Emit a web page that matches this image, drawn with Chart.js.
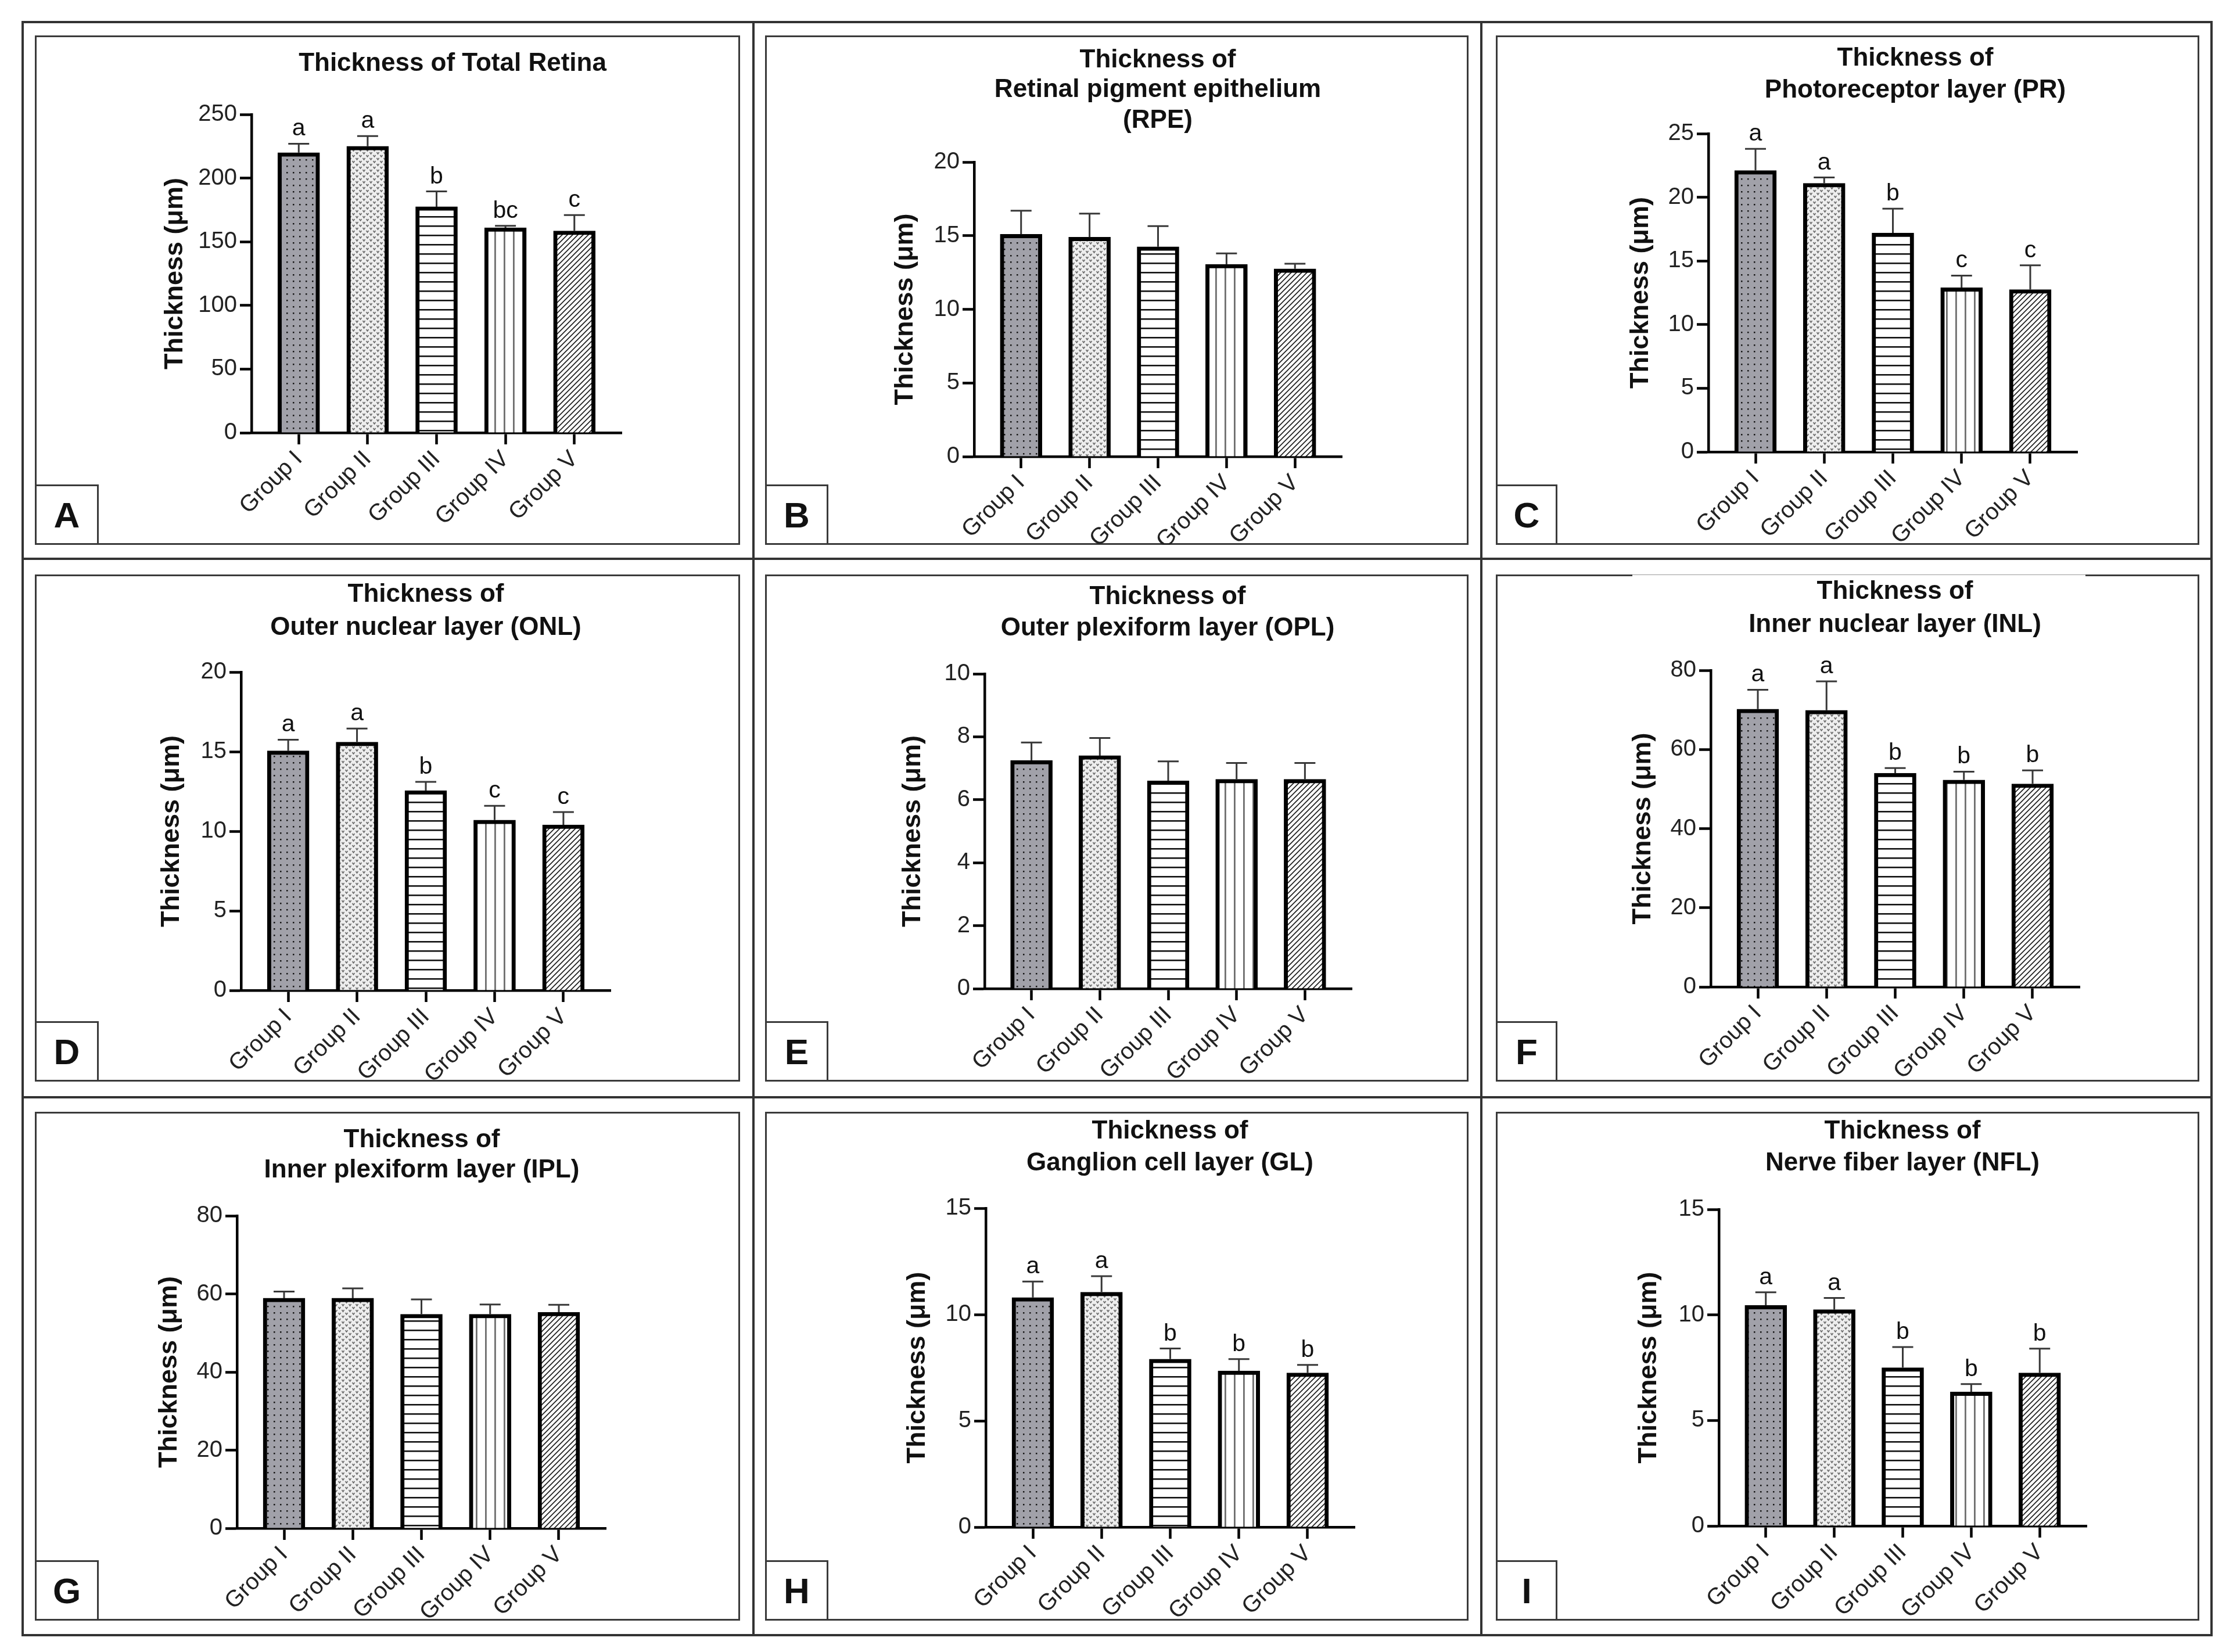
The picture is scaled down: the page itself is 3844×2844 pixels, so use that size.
<!DOCTYPE html>
<html>
<head>
<meta charset="utf-8">
<script src="https://cdn.jsdelivr.net/npm/chart.js@4.4.1/dist/chart.umd.min.js"></script>
<style>
html,body{margin:0;padding:0;background:#fff;}
#fig{position:relative;width:3844px;height:2844px;overflow:hidden;background:#fff;font-family:"Liberation Sans",Arial,sans-serif;}
.ln{position:absolute;background:#333;}
.box{position:absolute;border:3px solid #3a3a3a;box-sizing:border-box;}
.tag{position:absolute;border:3px solid #3a3a3a;box-sizing:border-box;background:#fff;display:flex;align-items:center;justify-content:center;font-weight:bold;font-size:62px;color:#111;z-index:3;}
.ttl{position:absolute;transform:translate(-50%,-50%);white-space:nowrap;font-weight:bold;font-size:44px;line-height:1;color:#111;z-index:2;}
canvas{position:absolute;z-index:1;}
</style>
</head>
<body>
<div id="fig"></div>
<script>
// ---------------- data ----------------
const groups = ['Group I', 'Group II', 'Group III', 'Group IV', 'Group V'];
const yAxisTitle = 'Thickness (μm)';

const totalRetinaTitle = ['Thickness of Total Retina'];
const totalRetinaMean = [220, 225, 177.5, 161, 158.5];
const totalRetinaSD = [7, 8, 12, 1.5, 12.5];
const totalRetinaLetters = ['a', 'a', 'b', 'bc', 'c'];
const totalRetinaTicks = [0, 50, 100, 150, 200, 250];

const rpeTitle = ['Thickness of', 'Retinal pigment epithelium', '(RPE)'];
const rpeMean = [15.1, 14.9, 14.25, 13.05, 12.75];
const rpeSD = [1.6, 1.6, 1.4, 0.75, 0.35];
const rpeLetters = [];
const rpeTicks = [0, 5, 10, 15, 20];

const prTitle = ['Thickness of', 'Photoreceptor layer (PR)'];
const prMean = [22.1, 21.1, 17.2, 12.9, 12.75];
const prSD = [1.7, 0.45, 1.9, 0.95, 1.9];
const prLetters = ['a', 'a', 'b', 'c', 'c'];
const prTicks = [0, 5, 10, 15, 20, 25];

const onlTitle = ['Thickness of', 'Outer nuclear layer (ONL)'];
const onlMean = [15.05, 15.6, 12.55, 10.7, 10.4];
const onlSD = [0.7, 0.85, 0.55, 0.9, 0.8];
const onlLetters = ['a', 'a', 'b', 'c', 'c'];
const onlTicks = [0, 5, 10, 15, 20];

const oplTitle = ['Thickness of', 'Outer plexiform layer (OPL)'];
const oplMean = [7.25, 7.4, 6.6, 6.65, 6.65];
const oplSD = [0.57, 0.56, 0.62, 0.52, 0.52];
const oplLetters = [];
const oplTicks = [0, 2, 4, 6, 8, 10];

const inlTitle = ['Thickness of', 'Inner nuclear layer (INL)'];
const inlMean = [70.2, 69.9, 54.0, 52.3, 51.3];
const inlSD = [4.9, 7.3, 1.3, 2.1, 3.4];
const inlLetters = ['a', 'a', 'b', 'b', 'b'];
const inlTicks = [0, 20, 40, 60, 80];

const iplTitle = ['Thickness of', 'Inner plexiform layer (IPL)'];
const iplMean = [58.9, 58.9, 54.8, 54.8, 55.3];
const iplSD = [1.7, 2.5, 3.8, 2.5, 1.9];
const iplLetters = [];
const iplTicks = [0, 20, 40, 60, 80];

const glTitle = ['Thickness of', 'Ganglion cell layer (GL)'];
const glMean = [10.8, 11.05, 7.9, 7.35, 7.25];
const glSD = [0.75, 0.75, 0.5, 0.55, 0.38];
const glLetters = ['a', 'a', 'b', 'b', 'b'];
const glTicks = [0, 5, 10, 15];

const nflTitle = ['Thickness of', 'Nerve fiber layer (NFL)'];
const nflMean = [10.45, 10.25, 7.5, 6.35, 7.25];
const nflSD = [0.62, 0.55, 0.98, 0.37, 1.15];
const nflLetters = ['a', 'a', 'b', 'b', 'b'];
const nflTicks = [0, 5, 10, 15];

// ---------------- layout (positions only) ----------------
const FONT = '"Liberation Sans", Arial, sans-serif';
const panels = [
  {tag:'A', title:totalRetinaTitle, mean:totalRetinaMean, sd:totalRetinaSD, letters:totalRetinaLetters, ticks:totalRetinaTicks,
   box:[60,61,1214,877], ax:[433,1070,197,745], yt:302, tx:779, ty:[107]},
  {tag:'B', title:rpeTitle, mean:rpeMean, sd:rpeSD, letters:rpeLetters, ticks:rpeTicks,
   box:[1317,61,1211,877], ax:[1677,2310,279,786], yt:1559, tx:1993, ty:[101,152,205]},
  {tag:'C', title:prTitle, mean:prMean, sd:prSD, letters:prLetters, ticks:prTicks,
   box:[2575,61,1211,877], ax:[2941,3576,230,778], yt:2825, tx:3297, ty:[98,153]},
  {tag:'D', title:onlTitle, mean:onlMean, sd:onlSD, letters:onlLetters, ticks:onlTicks,
   box:[60,989,1214,873], ax:[415,1051,1157,1705], yt:296, tx:733, ty:[1021,1078]},
  {tag:'E', title:oplTitle, mean:oplMean, sd:oplSD, letters:oplLetters, ticks:oplTicks,
   box:[1317,989,1211,873], ax:[1695,2327,1160,1702], yt:1572, tx:2010, ty:[1025,1079]},
  {tag:'F', title:inlTitle, mean:inlMean, sd:inlSD, letters:inlLetters, ticks:inlTicks,
   box:[2575,989,1211,873], ax:[2945,3580,1154,1699], yt:2829, tx:3262, ty:[1016,1073]},
  {tag:'G', title:iplTitle, mean:iplMean, sd:iplSD, letters:iplLetters, ticks:iplTicks,
   box:[60,1914,1214,876], ax:[408,1043,2093,2631], yt:292, tx:726, ty:[1960,2012]},
  {tag:'H', title:glTitle, mean:glMean, sd:glSD, letters:glLetters, ticks:glTicks,
   box:[1317,1914,1211,876], ax:[1697,2332,2080,2629], yt:1580, tx:2014, ty:[1945,2000]},
  {tag:'I', title:nflTitle, mean:nflMean, sd:nflSD, letters:nflLetters, ticks:nflTicks,
   box:[2575,1914,1211,876], ax:[2959,3592,2082,2627], yt:2839, tx:3275, ty:[1945,2000]}
];
const tagW = [110, 109, 106];
const tagH = 104;

const fig = document.getElementById('fig');
function el(cls, x, y, w, h, txt) {
  const d = document.createElement('div');
  d.className = cls;
  d.style.left = x + 'px'; d.style.top = y + 'px';
  if (w != null) d.style.width = w + 'px';
  if (h != null) d.style.height = h + 'px';
  if (txt != null) d.textContent = txt;
  fig.appendChild(d);
  return d;
}

// outer frame and separators
el('ln', 37, 36, 3772, 4);
el('ln', 37, 2813, 3772, 4);
el('ln', 37, 36, 4, 2781);
el('ln', 3805, 36, 4, 2781);
el('ln', 1295, 36, 4, 2781);
el('ln', 2548, 36, 4, 2781);
el('ln', 37, 960, 3772, 4);
el('ln', 37, 1887, 3772, 4);

// ---------------- patterns ----------------
function makePattern(w, h, draw) {
  const c = document.createElement('canvas');
  c.width = w; c.height = h;
  const g = c.getContext('2d');
  draw(g, w, h);
  return g.createPattern(c, 'repeat');
}
function patterns() {
  return [
    makePattern(11, 11, (g, w, h) => { g.fillStyle = '#a1a1a9'; g.fillRect(0, 0, w, h); g.fillStyle = '#141414'; g.fillRect(4, 4, 2.5, 2.5); }),
    makePattern(12, 10, (g, w, h) => {
      g.fillStyle = '#eeeeee'; g.fillRect(0, 0, w, h);
      g.strokeStyle = '#6a6a6a'; g.lineWidth = 1.6;
      g.beginPath(); g.moveTo(0.5, 1); g.lineTo(2.5, 4); g.lineTo(4.5, 1);
      g.moveTo(6.5, 6); g.lineTo(8.5, 9); g.lineTo(10.5, 6); g.stroke();
    }),
    makePattern(8, 16, (g, w, h) => { g.fillStyle = '#fff'; g.fillRect(0, 0, w, h); g.fillStyle = '#111'; g.fillRect(0, 7, w, 2.6); }),
    makePattern(16, 8, (g, w, h) => { g.fillStyle = '#fff'; g.fillRect(0, 0, w, h); g.fillStyle = '#6e6e6e'; g.fillRect(7, 0, 2.8, h); }),
    makePattern(9, 9, (g, w, h) => {
      g.fillStyle = '#fff'; g.fillRect(0, 0, w, h);
      g.strokeStyle = '#1e1e1e'; g.lineWidth = 1.7;
      g.beginPath(); g.moveTo(0, h); g.lineTo(w, 0);
      g.moveTo(-2, 2); g.lineTo(2, -2);
      g.moveTo(w - 2, h + 2); g.lineTo(w + 2, h - 2); g.stroke();
    })
  ];
}

// ---------------- plugin: error bars + significance letters ----------------
const errPlugin = {
  id: 'errbars',
  afterDatasetsDraw(chart) {
    const ctx = chart.ctx;
    const ys = chart.scales.y;
    const ds = chart.data.datasets[0];
    const meta = chart.getDatasetMeta(0);
    ctx.save();
    meta.data.forEach((bar, i) => {
      const v = ds.data[i].y + ds.sd[i];
      const e = ys.getPixelForValue(v);
      ctx.strokeStyle = '#383838';
      ctx.lineWidth = 3;
      ctx.beginPath();
      ctx.moveTo(bar.x, bar.y);
      ctx.lineTo(bar.x, e);
      ctx.moveTo(bar.x - 18, e);
      ctx.lineTo(bar.x + 18, e);
      ctx.stroke();
      if (ds.letters && ds.letters[i]) {
        ctx.fillStyle = '#111';
        ctx.font = '41px ' + FONT;
        ctx.textAlign = 'center';
        ctx.textBaseline = 'alphabetic';
        ctx.fillText(ds.letters[i], bar.x, e - 14);
      }
    });
    ctx.restore();
  }
};

const axisGrid = {display:true, drawOnChartArea:false, drawTicks:true, tickLength:20, tickWidth:4.5, tickColor:'#000', offset:false};
const axisBorder = {display:true, width:4.5, color:'#000'};

panels.forEach((p, k) => {
  const [bx, by, bw, bh] = p.box;
  const [x0, xr, yT, yZ] = p.ax;
  el('box', bx, by, bw, bh);
  p.title.forEach((t, j) => el('ttl', p.tx, p.ty[j], null, null, t));
  el('tag', bx, by + bh - tagH, tagW[k % 3], tagH, p.tag);

  const cv = document.createElement('canvas');
  cv.width = bw; cv.height = bh;
  cv.style.left = bx + 'px'; cv.style.top = by + 'px';
  cv.style.width = bw + 'px'; cv.style.height = bh + 'px';
  fig.appendChild(cv);

  new Chart(cv, {
    type: 'bar',
    data: {
      datasets: [{
        data: p.mean.map((v, i) => ({x: i + 1, y: v})),
        sd: p.sd,
        letters: p.letters,
        backgroundColor: patterns(),
        borderColor: '#000',
        borderWidth: 7,
        borderSkipped: 'start',
        barThickness: 72
      }]
    },
    plugins: [errPlugin],
    options: {
      responsive: false,
      devicePixelRatio: 1,
      animation: false,
      events: [],
      layout: {padding: {left: 0, top: yT - by, right: bx + bw - xr, bottom: 0}},
      plugins: {legend: {display: false}, tooltip: {enabled: false}, title: {display: false}},
      scales: {
        x: {
          type: 'linear', min: 0.315, max: 5.685, offset: false, z: 1,
          afterBuildTicks: a => { a.ticks = groups.map((g, i) => ({value: i + 1})); },
          afterFit: s => { s.height = by + bh - yZ; },
          ticks: {callback: v => groups[v - 1], minRotation: 45, maxRotation: 45, autoSkip: false,
                  font: {size: 40, family: FONT}, color: '#222', padding: 2},
          grid: axisGrid, border: axisBorder
        },
        y: {
          min: 0, max: p.ticks[p.ticks.length - 1],
          afterBuildTicks: a => { a.ticks = p.ticks.map(v => ({value: v})); },
          afterFit: s => { s.width = x0 - bx; },
          ticks: {font: {size: 40, family: FONT}, color: '#222', padding: 5},
          grid: axisGrid, border: axisBorder,
          title: {display: true, text: yAxisTitle, font: {size: 45, weight: 'bold', family: FONT}, color: '#111',
                  padding: {top: p.yt - bx - 27, bottom: 0}}
        }
      }
    }
  });
});

// small gap in the top border of panel F (as in the original figure)
const gap = el('ln', 2810, 989, 780, 3);
gap.style.background = '#fff'; gap.style.zIndex = 4;
const gapLine = el('ln', 2810, 989, 780, 1);
gapLine.style.background = '#9a9a9a'; gapLine.style.zIndex = 5;
</script>
</body>
</html>
